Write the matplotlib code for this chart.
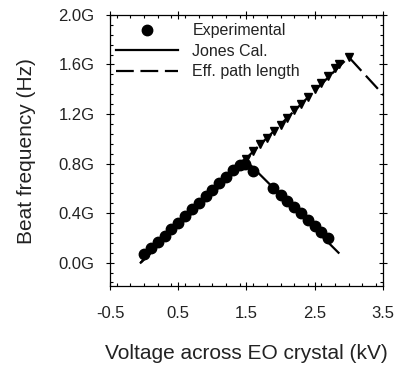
import numpy as np
import matplotlib
matplotlib.use("Agg")
import matplotlib.pyplot as plt
from matplotlib.ticker import MultipleLocator, FuncFormatter

plt.rcParams["font.family"] = ["Liberation Sans", "DejaVu Sans"]
plt.rcParams["axes.unicode_minus"] = False

# Experimental beat frequency (GHz) vs voltage (kV)
exp_v = [0.0, 0.1, 0.2, 0.3, 0.4, 0.5, 0.6, 0.7, 0.8, 0.9, 1.0, 1.1, 1.2, 1.3, 1.4, 1.48,
         1.59, 1.89, 2.0, 2.1, 2.2, 2.3, 2.4, 2.5, 2.6, 2.7]
exp_f = [0.07, 0.12, 0.165, 0.215, 0.27, 0.32, 0.375, 0.43, 0.48, 0.535, 0.59, 0.64, 0.695,
         0.75, 0.79, 0.80, 0.74, 0.60, 0.545, 0.495, 0.45, 0.40, 0.345, 0.295, 0.25, 0.195]

# triangles along effective path length branch
tri_v = [1.5, 1.6, 1.7, 1.8, 1.9, 2.0, 2.1, 2.2, 2.3, 2.4, 2.5, 2.6, 2.7, 2.8, 2.85, 3.0]
tri_f = [0.84, 0.90, 0.96, 1.01, 1.06, 1.11, 1.17, 1.23, 1.28, 1.34, 1.40, 1.45, 1.51,
         1.57, 1.60, 1.66]

# Jones calculation (solid) and effective path length (dashed)
jones_v = [-0.05, 1.5, 2.85]
jones_f = [0.0, 0.82, 0.08]
eff_v = [-0.05, 3.0, 3.6]
eff_f = [0.0, 1.66, 1.30]

G = 1e9

fig = plt.figure(figsize=(4.03, 3.65), dpi=100)
ax = fig.add_axes([0.273, 0.216, 0.677, 0.743])

ax.plot(np.array(eff_v), np.array(eff_f) * G, color="black", lw=1.6,
        dashes=(8, 3), label="Eff. path length", zorder=2)
ax.plot(np.array(jones_v), np.array(jones_f) * G, color="black", lw=1.6,
        label="Jones Cal.", zorder=2)
ax.plot(np.array(exp_v), np.array(exp_f) * G, "o", color="black", ms=7.5,
        label="Experimental", zorder=3)
ax.plot(np.array(tri_v), np.array(tri_f) * G, "v", color="black", ms=5.5, zorder=3)

ax.set_xlim(-0.5, 3.5)
ax.set_ylim(-0.19 * G, 2.0 * G)
ax.xaxis.set_minor_locator(MultipleLocator(0.2))
ax.set_xticks([-0.5, 0.5, 1.5, 2.5, 3.5])
ax.yaxis.set_major_locator(MultipleLocator(0.4 * G))
ax.yaxis.set_minor_locator(MultipleLocator(0.08 * G))
ax.yaxis.set_major_formatter(FuncFormatter(lambda v, p: "%.1fG" % (v / G)))

ax.tick_params(which="major", direction="inout", length=6, width=0.8,
               top=True, right=True, labelsize=12, labelcolor="#222222")
ax.tick_params(which="minor", direction="in", length=2.5, width=0.8,
               top=True, right=True)
ax.tick_params(axis="y", which="major", pad=8)
ax.tick_params(axis="x", which="major", pad=11)
for s in ax.spines.values():
    s.set_linewidth(0.9)

ax.set_xlabel("Voltage across EO crystal (kV)", fontsize=15, color="#222222")
ax.set_ylabel("Beat frequency (Hz)", fontsize=15, color="#222222")
ax.xaxis.set_label_coords(0.5, -0.212)
ax.yaxis.set_label_coords(-0.272, 0.5)

h, l = ax.get_legend_handles_labels()
order = [2, 1, 0]
leg = ax.legend([h[i] for i in order], [l[i] for i in order], loc="upper left",
                bbox_to_anchor=(0.0, 0.99), borderaxespad=0.0, frameon=False,
                fontsize=11.5, handlelength=3.9, handletextpad=0.9, labelspacing=0.35,
                borderpad=0.35)
for t in leg.get_texts():
    t.set_color("#222222")

fig.savefig("out.png", dpi=100)
